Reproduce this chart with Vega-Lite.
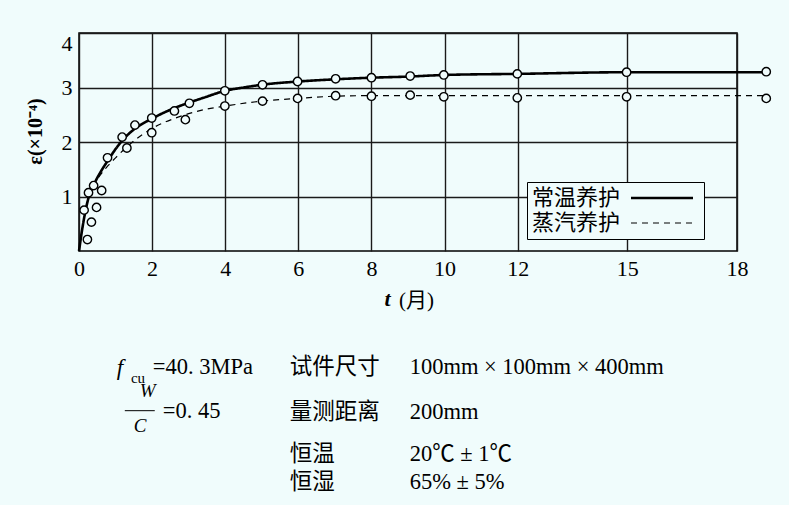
{
  "$schema": "https://vega.github.io/schema/vega-lite/v6.json",
  "width": 658,
  "height": 218,
  "autosize": "none",
  "padding": {"left": 79, "top": 33, "right": 52, "bottom": 254},
  "background": "#f0fcfc",
  "config": {
    "view": {"stroke": "#000000", "strokeWidth": 1.5, "fill": null},
    "font": "Liberation Serif"
  },
  "datasets": {
    "curve": [
      {"t": 0, "e": 0, "series": "常温养护"},
      {"t": 0.1, "e": 0.45, "series": "常温养护"},
      {"t": 0.25, "e": 0.95, "series": "常温养护"},
      {"t": 0.43, "e": 1.25, "series": "常温养护"},
      {"t": 0.6, "e": 1.46, "series": "常温养护"},
      {"t": 0.79, "e": 1.66, "series": "常温养护"},
      {"t": 1.0, "e": 1.87, "series": "常温养护"},
      {"t": 1.2, "e": 2.04, "series": "常温养护"},
      {"t": 1.5, "e": 2.23, "series": "常温养护"},
      {"t": 2.0, "e": 2.43, "series": "常温养护"},
      {"t": 2.6, "e": 2.62, "series": "常温养护"},
      {"t": 3.0, "e": 2.72, "series": "常温养护"},
      {"t": 3.4, "e": 2.81, "series": "常温养护"},
      {"t": 4.0, "e": 2.94, "series": "常温养护"},
      {"t": 4.5, "e": 3.0, "series": "常温养护"},
      {"t": 5.0, "e": 3.05, "series": "常温养护"},
      {"t": 6.0, "e": 3.11, "series": "常温养护"},
      {"t": 7.0, "e": 3.15, "series": "常温养护"},
      {"t": 8.0, "e": 3.18, "series": "常温养护"},
      {"t": 9.0, "e": 3.2, "series": "常温养护"},
      {"t": 10.0, "e": 3.23, "series": "常温养护"},
      {"t": 12.0, "e": 3.25, "series": "常温养护"},
      {"t": 15.0, "e": 3.28, "series": "常温养护"},
      {"t": 18.8, "e": 3.28, "series": "常温养护"},
      {"t": 0, "e": 0, "series": "蒸汽养护"},
      {"t": 0.1, "e": 0.45, "series": "蒸汽养护"},
      {"t": 0.25, "e": 0.94, "series": "蒸汽养护"},
      {"t": 0.43, "e": 1.23, "series": "蒸汽养护"},
      {"t": 0.6, "e": 1.41, "series": "蒸汽养护"},
      {"t": 0.8, "e": 1.57, "series": "蒸汽养护"},
      {"t": 1.0, "e": 1.71, "series": "蒸汽养护"},
      {"t": 1.34, "e": 1.93, "series": "蒸汽养护"},
      {"t": 2.0, "e": 2.25, "series": "蒸汽养护"},
      {"t": 2.6, "e": 2.43, "series": "蒸汽养护"},
      {"t": 3.0, "e": 2.52, "series": "蒸汽养护"},
      {"t": 3.4, "e": 2.59, "series": "蒸汽养护"},
      {"t": 4.0, "e": 2.66, "series": "蒸汽养护"},
      {"t": 5.0, "e": 2.75, "series": "蒸汽养护"},
      {"t": 6.0, "e": 2.8, "series": "蒸汽养护"},
      {"t": 7.0, "e": 2.84, "series": "蒸汽养护"},
      {"t": 8.0, "e": 2.85, "series": "蒸汽养护"},
      {"t": 10.0, "e": 2.85, "series": "蒸汽养护"},
      {"t": 12.0, "e": 2.85, "series": "蒸汽养护"},
      {"t": 15.0, "e": 2.85, "series": "蒸汽养护"},
      {"t": 18.8, "e": 2.85, "series": "蒸汽养护"}
    ],
    "obs": [
      {"t": 0.14, "e": 0.75, "series": "常温养护"},
      {"t": 0.26, "e": 1.07, "series": "常温养护"},
      {"t": 0.4, "e": 1.2, "series": "常温养护"},
      {"t": 0.62, "e": 1.11, "series": "常温养护"},
      {"t": 0.78, "e": 1.71, "series": "常温养护"},
      {"t": 1.18, "e": 2.09, "series": "常温养护"},
      {"t": 1.53, "e": 2.31, "series": "常温养护"},
      {"t": 1.99, "e": 2.44, "series": "常温养护"},
      {"t": 2.61, "e": 2.57, "series": "常温养护"},
      {"t": 3.02, "e": 2.71, "series": "常温养护"},
      {"t": 3.99, "e": 2.94, "series": "常温养护"},
      {"t": 5.02, "e": 3.05, "series": "常温养护"},
      {"t": 5.98, "e": 3.11, "series": "常温养护"},
      {"t": 7.02, "e": 3.16, "series": "常温养护"},
      {"t": 8.0, "e": 3.18, "series": "常温养护"},
      {"t": 9.06, "e": 3.21, "series": "常温养护"},
      {"t": 9.98, "e": 3.23, "series": "常温养护"},
      {"t": 11.99, "e": 3.25, "series": "常温养护"},
      {"t": 14.98, "e": 3.28, "series": "常温养护"},
      {"t": 18.8, "e": 3.29, "series": "常温养护"},
      {"t": 0.23, "e": 0.21, "series": "蒸汽养护"},
      {"t": 0.34, "e": 0.53, "series": "蒸汽养护"},
      {"t": 0.48, "e": 0.8, "series": "蒸汽养护"},
      {"t": 1.31, "e": 1.89, "series": "蒸汽养护"},
      {"t": 1.99, "e": 2.17, "series": "蒸汽养护"},
      {"t": 2.91, "e": 2.41, "series": "蒸汽养护"},
      {"t": 3.99, "e": 2.66, "series": "蒸汽养护"},
      {"t": 5.02, "e": 2.75, "series": "蒸汽养护"},
      {"t": 5.98, "e": 2.8, "series": "蒸汽养护"},
      {"t": 7.02, "e": 2.85, "series": "蒸汽养护"},
      {"t": 8.0, "e": 2.84, "series": "蒸汽养护"},
      {"t": 9.06, "e": 2.86, "series": "蒸汽养护"},
      {"t": 9.98, "e": 2.83, "series": "蒸汽养护"},
      {"t": 11.99, "e": 2.81, "series": "蒸汽养护"},
      {"t": 14.98, "e": 2.83, "series": "蒸汽养护"},
      {"t": 18.8, "e": 2.8, "series": "蒸汽养护"}
    ],
    "notes": [
      {"t": 2.016, "e": -2.258, "text": "=40. 3MPa"},
      {"t": 5.763, "e": -2.258, "text": "试件尺寸"},
      {"t": 9.045, "e": -2.258, "text": "100mm × 100mm × 400mm"},
      {"t": 2.29, "e": -3.064, "text": "=0. 45"},
      {"t": 5.763, "e": -3.082, "text": "量测距离"},
      {"t": 9.045, "e": -3.082, "text": "200mm"},
      {"t": 5.763, "e": -3.852, "text": "恒温"},
      {"t": 9.045, "e": -3.852, "text": "20℃ ± 1℃"},
      {"t": 5.763, "e": -4.364, "text": "恒湿"},
      {"t": 9.045, "e": -4.364, "text": "65% ± 5%"}
    ],
    "italic": [
      {"t": 1.034, "e": -2.27, "text": "f"}
    ],
    "fracLetters": [
      {"t": 1.66, "e": -2.685, "text": "W"},
      {"t": 1.5, "e": -3.32, "text": "C"}
    ],
    "sub": [
      {"t": 1.42, "e": -2.43, "text": "cu"}
    ],
    "frac": [
      {"t": 1.253, "t2": 2.073, "e": -2.93}
    ],
    "tvar": [
      {"t": 8.36, "e": -1.013, "text": "t"}
    ]
  },
  "encoding": {
    "x": {
      "field": "t",
      "type": "quantitative",
      "scale": {"domain": [0, 18], "nice": false, "zero": false},
      "axis": {
        "values": [0, 2, 4, 6, 8, 10, 12, 15, 18],
        "grid": true,
        "gridColor": "#1a1a1a",
        "gridWidth": 1.4,
        "domain": false,
        "ticks": false,
        "tickSize": 0,
        "labelPadding": 7,
        "labelFlush": false,
        "labelOverlap": false,
        "labelFont": "Liberation Serif",
        "labelFontSize": 22,
        "labelColor": "#000000",
        "title": "(月)",
        "titleFont": "Liberation Serif, Noto Sans CJK SC",
        "titleFontSize": 21,
        "titleFontWeight": "normal",
        "titleColor": "#000000",
        "titleBaseline": "alphabetic",
        "titleAlign": "center",
        "titleX": 337,
        "titleY": 55
      }
    },
    "y": {
      "field": "e",
      "type": "quantitative",
      "scale": {"domain": [0, 4], "nice": false, "zero": false},
      "axis": {
        "values": [1, 2, 3, 4],
        "grid": true,
        "gridColor": "#1a1a1a",
        "gridWidth": 1.4,
        "domain": false,
        "ticks": false,
        "tickSize": 0,
        "labelPadding": 7,
        "labelFlush": true,
        "labelOverlap": false,
        "labelFont": "Liberation Serif",
        "labelFontSize": 22,
        "labelColor": "#000000",
        "title": "ε(×10⁻⁴)",
        "titleFont": "Liberation Serif",
        "titleFontSize": 20,
        "titleFontWeight": "bold",
        "titleColor": "#000000",
        "titleBaseline": "middle",
        "titleAlign": "center",
        "titleAngle": 270,
        "titleX": -44,
        "titleY": 98
      }
    }
  },
  "layer": [
    {
      "data": {"name": "curve"},
      "mark": {"type": "line", "color": "#000000", "interpolate": "monotone"},
      "encoding": {
        "detail": {"field": "series", "type": "nominal"},
        "strokeDash": {
          "field": "series",
          "type": "nominal",
          "scale": {"domain": ["常温养护", "蒸汽养护"], "range": [[1, 0], [6, 5]]},
          "legend": {
            "orient": "none",
            "legendX": 448,
            "legendY": 149,
            "title": null,
            "padding": 5,
            "strokeColor": "#000000",
            "fillColor": "#f0fcfc",
            "symbolType": "M-4,0H4",
            "symbolSize": 240,
            "symbolStrokeColor": "#000000",
            "symbolStrokeWidth": 2,
            "labelFont": "Noto Sans CJK SC",
            "labelFontSize": 22,
            "labelColor": "#000000",
            "labelOffset": -141,
            "symbolOffset": 119,
            "rowPadding": 3,
            "labelLimit": 300,
            "encode": {
              "symbols": {
                "update": {
                  "strokeWidth": {"signal": "datum.value === '常温养护' ? 2.6 : 1.2"}
                }
              }
            }
          }
        },
        "strokeWidth": {
          "field": "series",
          "type": "ordinal",
          "scale": {"domain": ["常温养护", "蒸汽养护"], "range": [2.6, 1.2]},
          "legend": null
        }
      }
    },
    {
      "data": {"name": "obs"},
      "mark": {"type": "point", "shape": "circle", "filled": false, "fill": "#f0fcfc", "fillOpacity": 1, "stroke": "#000000", "strokeWidth": 1.4, "size": 70, "opacity": 1}
    },
    {
      "data": {"name": "notes"},
      "mark": {"type": "text", "align": "left", "baseline": "alphabetic", "font": "Liberation Serif, Noto Sans CJK SC", "fontSize": 22.5, "color": "#000000"},
      "encoding": {"text": {"field": "text", "type": "nominal"}}
    },
    {
      "data": {"name": "italic"},
      "mark": {"type": "text", "align": "left", "baseline": "alphabetic", "font": "Liberation Serif", "fontStyle": "italic", "fontSize": 23, "color": "#000000"},
      "encoding": {"text": {"field": "text", "type": "nominal"}}
    },
    {
      "data": {"name": "fracLetters"},
      "mark": {"type": "text", "align": "left", "baseline": "alphabetic", "font": "Liberation Serif", "fontStyle": "italic", "fontSize": 19, "color": "#000000"},
      "encoding": {"text": {"field": "text", "type": "nominal"}}
    },
    {
      "data": {"name": "sub"},
      "mark": {"type": "text", "align": "left", "baseline": "alphabetic", "font": "Liberation Serif", "fontSize": 15, "color": "#000000"},
      "encoding": {"text": {"field": "text", "type": "nominal"}}
    },
    {
      "data": {"name": "frac"},
      "mark": {"type": "rule", "color": "#000000", "strokeWidth": 1},
      "encoding": {"x2": {"field": "t2"}}
    },
    {
      "data": {"name": "tvar"},
      "mark": {"type": "text", "align": "left", "baseline": "alphabetic", "font": "Liberation Serif", "fontStyle": "italic", "fontWeight": "bold", "fontSize": 22, "color": "#000000"},
      "encoding": {"text": {"field": "text", "type": "nominal"}}
    }
  ]
}
